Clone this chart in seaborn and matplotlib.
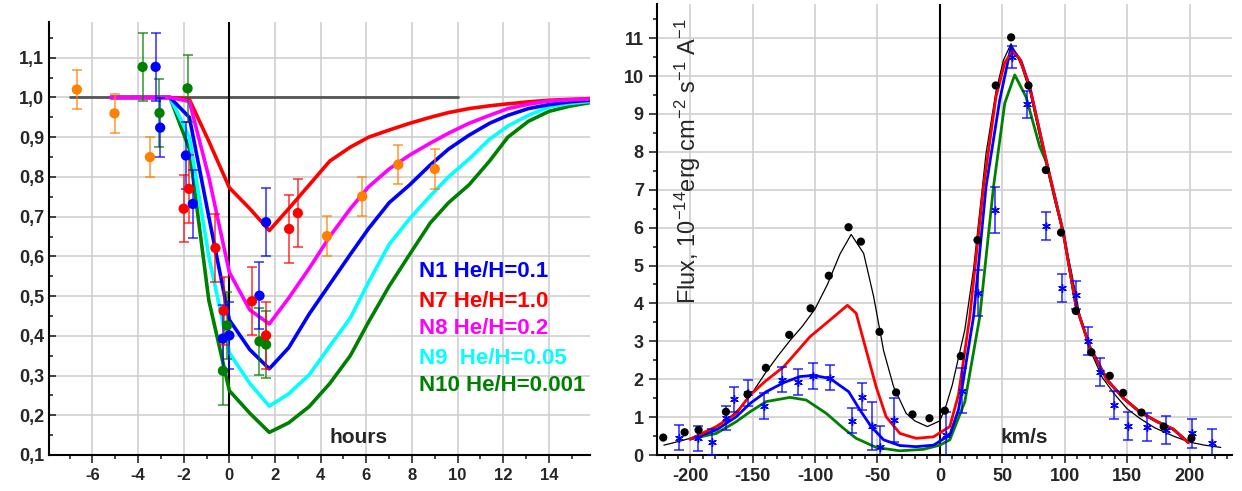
import numpy as np
import pandas as pd
import matplotlib
matplotlib.use('Agg')
import matplotlib.pyplot as plt
import seaborn as sns
from matplotlib.ticker import MultipleLocator, FixedLocator

# ---------------- left panel: model light curves (hours, relative flux)
t_model = [-5.2, -2.6, -1.75, -0.9, 0, 0.9, 1.75, 2.6, 3.5, 4.4, 5.3, 6.1, 7.0, 7.9,
           8.8, 9.6, 10.5, 11.4, 12.2, 13.1, 14.0, 14.9, 15.8]
n1_f = [1.0, 1.0, 0.95, 0.70, 0.44, 0.365, 0.317, 0.37, 0.455, 0.53, 0.605, 0.67, 0.735,
        0.78, 0.83, 0.87, 0.905, 0.935, 0.955, 0.972, 0.982, 0.989, 0.993]
n7_f = [1.0, 1.0, 0.995, 0.89, 0.773, 0.72, 0.665, 0.72, 0.78, 0.84, 0.875, 0.9, 0.918,
        0.935, 0.95, 0.962, 0.972, 0.979, 0.984, 0.989, 0.993, 0.995, 0.997]
n8_f = [1.0, 1.0, 0.99, 0.80, 0.56, 0.465, 0.43, 0.495, 0.57, 0.65, 0.72, 0.775, 0.82,
        0.855, 0.885, 0.91, 0.935, 0.955, 0.972, 0.983, 0.991, 0.994, 0.996]
n9_f = [1.0, 1.0, 0.90, 0.60, 0.357, 0.28, 0.223, 0.254, 0.302, 0.374, 0.445, 0.535, 0.63,
        0.695, 0.752, 0.80, 0.845, 0.895, 0.928, 0.955, 0.976, 0.985, 0.99]
n10_f = [1.0, 1.0, 0.87, 0.49, 0.262, 0.205, 0.157, 0.181, 0.222, 0.28, 0.35, 0.435, 0.525,
         0.605, 0.684, 0.735, 0.78, 0.84, 0.9, 0.94, 0.965, 0.978, 0.987]

# observed points
orange_t = [-6.68, -5.03, -3.48, 4.28, 5.82, 7.4, 9.0]
orange_f = [1.02, 0.96, 0.85, 0.651, 0.751, 0.831, 0.82]
orange_e = [0.05, 0.05, 0.05, 0.05, 0.05, 0.05, 0.05]
green_t = [-3.8, -3.06, -1.83, -0.1, -0.28, 1.32, 1.61]
green_f = [1.077, 0.961, 1.023, 0.426, 0.312, 0.386, 0.378]
green_e = [0.085, 0.085, 0.085, 0.085, 0.085, 0.085, 0.085]
blue_t = [-3.23, -3.03, -1.9, -1.6, 1.61, 0.0, -0.29, 1.32]
blue_f = [1.077, 0.924, 0.854, 0.732, 0.686, 0.401, 0.393, 0.501]
blue_e = [0.085, 0.075, 0.085, 0.085, 0.085, 0.085, 0.085, 0.085]
red_t = [-2.0, -1.77, -0.61, -0.25, 0.99, 1.61, 2.62, 3.0]
red_f = [0.72, 0.77, 0.621, 0.463, 0.487, 0.401, 0.669, 0.709]
red_e = [0.085, 0.085, 0.085, 0.085, 0.085, 0.085, 0.085, 0.085]

left_yticks = [0.1, 0.2, 0.3, 0.4, 0.5, 0.6, 0.7, 0.8, 0.9, 1.0, 1.1]
left_xticks = [-6, -4, -2, 0, 2, 4, 6, 8, 10, 12, 14]
model_labels = ['N1 He/H=0.1', 'N7 He/H=1.0', 'N8 He/H=0.2', 'N9  He/H=0.05', 'N10 He/H=0.001']

# ---------------- right panel: line profile (km/s, flux)
obs_v = [-221.5, -204.4, -193.2, -171.3, -154, -139.3, -120.6, -103.5, -88.9, -73.1, -63.2,
         -48.3, -35, -21.9, -8.3, 4, 16.8, 30.2, 44.8, 57.1, 71, 84.9, 97.1, 108.9, 121.4,
         136.1, 146.8, 161.5, 179.3, 201.5]
obs_f = [0.46, 0.60, 0.66, 1.14, 1.60, 2.30, 3.17, 3.87, 4.73, 6.01, 5.63, 3.25, 1.65, 1.07,
         0.97, 1.17, 2.61, 5.67, 9.75, 11.02, 9.75, 7.52, 5.87, 3.80, 2.71, 2.09, 1.64, 1.12,
         0.75, 0.44]

star_v = [-209, -193.5, -182.3, -171.6, -164.9, -154, -140.7, -126.5, -113.4, -101.4, -88.3,
          -70.5, -62.2, -54.7, -48, -36.3, 4.8, 18, 30.2, 44, 57.6, 69.9, 84.9, 97.9, 109.4,
          118.8, 128.1, 139.6, 151, 166.3, 181.5, 202, 218.3]
star_f = [0.46, 0.44, 0.35, 0.97, 1.47, 1.63, 1.30, 1.98, 1.93, 2.08, 2.04, 0.90, 1.54, 0.77,
          0.20, 0.92, 0.53, 1.7, 4.27, 6.46, 10.5, 9.25, 6.05, 4.41, 4.22, 3.02, 2.18, 1.32,
          0.77, 0.75, 0.66, 0.57, 0.31]
star_e = [0.34, 0.33, 0.34, 0.32, 0.33, 0.35, 0.34, 0.33, 0.35, 0.34, 0.33, 0.33, 0.35, 0.64,
          0.57, 0.59, 0.6, 0.6, 0.6, 0.6, 0.3, 0.35, 0.37, 0.36, 0.36, 0.37, 0.37, 0.37, 0.37,
          0.37, 0.37, 0.38, 0.37]

fit_v = [-221, -210, -200, -190, -180, -170, -160, -150, -140, -130, -120, -110, -100, -90,
         -80, -71, -61, -53, -45, -37, -27, -20, -10, 0, 5, 10, 20, 27, 37, 45, 51, 57, 65,
         72, 80, 85, 92, 99, 105, 112, 120, 130, 140, 150, 160, 172, 187, 200, 212, 225]
fit_f = [0.26, 0.35, 0.44, 0.55, 0.72, 0.93, 1.25, 1.65, 2.15, 2.6, 3.02, 3.4, 3.85, 4.5,
         5.3, 5.82, 5.32, 4.18, 2.75, 1.8, 1.1, 0.9, 0.75, 0.9, 1.3, 1.85, 3.3, 4.9, 7.95,
         9.6, 10.42, 10.85, 10.3, 9.6, 8.4, 7.7, 6.7, 5.8, 4.9, 3.7, 2.8, 2.05, 1.6, 1.22,
         0.97, 0.72, 0.5, 0.34, 0.26, 0.2]

red_v = [-200, -179, -163, -152, -140, -125, -104, -88, -74, -67, -59, -51, -43, -32, -19, -5,
         8, 15, 24, 35, 45, 52, 58, 64, 72, 85, 99, 109, 120, 134, 147, 160, 174, 187, 199]
red_pf = [0.42, 0.75, 1.1, 1.58, 1.94, 2.33, 3.12, 3.56, 3.95, 3.74, 2.77, 1.8, 1.01, 0.57,
          0.44, 0.48, 0.75, 1.6, 3.65, 7.08, 9.45, 10.35, 10.65, 10.45, 9.72, 7.8, 5.85, 3.95,
          2.86, 1.98, 1.5, 1.14, 0.88, 0.68, 0.33]
blue_v = [-200, -179, -163, -152, -139, -125, -112, -101, -88, -73, -64, -55, -45, -32, -19,
          -5, 8, 15, 27, 37, 48, 57, 65, 72, 85, 99, 109, 120, 134, 147, 160, 174, 187, 199]
blue_pf = [0.42, 0.66, 1.01, 1.36, 1.67, 1.91, 2.07, 2.1, 2.02, 1.67, 1.19, 0.75, 0.40, 0.25,
           0.22, 0.26, 0.53, 1.2, 3.65, 7.08, 9.37, 10.77, 10.4, 9.72, 7.8, 5.85, 3.95, 2.86,
           1.98, 1.5, 1.14, 0.88, 0.68, 0.33]
green_v = [-200, -179, -163, -152, -139, -120, -107, -91, -77, -67, -51, -32, -13, 0, 8, 20,
           32, 43, 52, 60, 69, 80, 85, 99, 109, 120, 134, 147, 160, 174, 187, 199]
green_pf = [0.42, 0.57, 0.88, 1.14, 1.41, 1.52, 1.45, 1.10, 0.70, 0.44, 0.20, 0.11, 0.15,
            0.26, 0.40, 1.4, 3.65, 7.08, 9.28, 10.03, 9.45, 8.14, 7.75, 5.85, 3.95, 2.86,
            1.98, 1.5, 1.14, 0.88, 0.68, 0.33]

right_xticks = [-200, -150, -100, -50, 0, 50, 100, 150, 200]
right_yticks = [0, 1, 2, 3, 4, 5, 6, 7, 8, 9, 10, 11]

#%% style
sns.set_style('ticks')
plt.rcParams['font.family'] = ['Liberation Sans', 'DejaVu Sans']
plt.rcParams['mathtext.fontset'] = 'custom'
plt.rcParams['mathtext.rm'] = 'Liberation Sans'
plt.rcParams['mathtext.it'] = 'Liberation Sans:italic'
plt.rcParams['mathtext.bf'] = 'Liberation Sans:bold'

BLUE, RED, MAG, CYAN, GREEN, ORANGE = '#0000ff', '#ff0000', '#ff00ff', '#00ffff', '#008000', '#ff8000'
GRID = '#cfcfcf'

fig = plt.figure(figsize=(12.42, 4.91), dpi=100)
ax1 = fig.add_axes([49 / 1242, 36 / 491, 541 / 1242, 433 / 491])
ax2 = fig.add_axes([657 / 1242, 36 / 491, 575 / 1242, 451 / 491])

#%% left panel
ax1.grid(True, color=GRID, lw=1.2)
ax1.set_axisbelow(True)
ax1.plot([-7, 10], [1.0, 1.0], color='#555555', lw=2, zorder=2)
ax1.axvline(0, color='black', lw=1.5, zorder=2)

curves = [(n10_f, GREEN), (n9_f, CYAN), (n1_f, BLUE), (n7_f, RED), (n8_f, MAG)]
for f, c in curves:
    sns.lineplot(x=t_model, y=f, ax=ax1, color=c, lw=2.6, sort=False, estimator=None, zorder=3)

points = [(orange_t, orange_f, orange_e, ORANGE), (green_t, green_f, green_e, GREEN),
          (blue_t, blue_f, blue_e, BLUE), (red_t, red_f, red_e, RED)]
for t, f, e, c in points:
    ax1.errorbar(t, f, yerr=e, fmt='none', ecolor=c, elinewidth=1.2, capsize=3.5,
                 capthick=1.2, alpha=0.75, zorder=4)
    sns.scatterplot(x=t, y=f, ax=ax1, color=c, s=55, edgecolor='none', zorder=5)

# model labels
text_y = [0.5625, 0.487, 0.418, 0.344, 0.275]
text_c = [BLUE, RED, MAG, CYAN, GREEN]
for lab, y, c in zip(model_labels, text_y, text_c):
    ax1.text(8.29, y, lab, color=c, fontsize=16, fontweight='bold', va='center', ha='left')
ax1.text(5.66, 0.144, 'hours', fontsize=15, fontweight='bold', ha='center', va='center')

ax1.set_xlim(-7.9, 15.8)
ax1.set_ylim(0.1, 1.19)
ax1.xaxis.set_major_locator(FixedLocator(left_xticks))
ax1.xaxis.set_minor_locator(MultipleLocator(1))
ax1.yaxis.set_major_locator(FixedLocator(left_yticks))
ax1.yaxis.set_minor_locator(MultipleLocator(0.05))
ax1.set_yticklabels([f'{v:.1f}'.replace('.', ',') for v in left_yticks])
ax1.set_xticklabels([str(v) for v in left_xticks])
ax1.tick_params(axis='y', which='both', direction='in', width=1.2, labelsize=13)
ax1.tick_params(axis='y', which='major', length=5)
ax1.tick_params(axis='y', which='minor', length=3)
ax1.tick_params(axis='x', which='both', direction='out', width=1.2, labelsize=12)
ax1.tick_params(axis='x', which='major', length=6)
ax1.tick_params(axis='x', which='minor', length=3)
for lab in ax1.get_xticklabels() + ax1.get_yticklabels():
    lab.set_fontweight('bold')
ax1.set_xlabel('')
ax1.set_ylabel('')
sns.despine(ax=ax1)
for s in ['left', 'bottom']:
    ax1.spines[s].set_color('black')
    ax1.spines[s].set_linewidth(1.5)

#%% right panel
ax2.grid(True, color=GRID, lw=1.2)
ax2.set_axisbelow(True)
ax2.axvline(0, color='black', lw=1.5, zorder=2)

sns.lineplot(x=fit_v, y=fit_f, ax=ax2, color='black', lw=0.9, sort=False, estimator=None, zorder=3)
sns.lineplot(x=green_v, y=green_pf, ax=ax2, color=GREEN, lw=2, sort=False, estimator=None, zorder=3)
sns.lineplot(x=blue_v, y=blue_pf, ax=ax2, color=BLUE, lw=2, sort=False, estimator=None, zorder=3)
sns.lineplot(x=red_v, y=red_pf, ax=ax2, color=RED, lw=2, sort=False, estimator=None, zorder=3)

ax2.errorbar(star_v, star_f, yerr=star_e, fmt='none', ecolor=BLUE, elinewidth=1.1,
             capsize=3.5, capthick=1.1, alpha=0.85, zorder=4)
sns.scatterplot(x=star_v, y=star_f, ax=ax2, color=BLUE, marker=(6, 2, 0), s=30,
                linewidth=1, zorder=5)
sns.scatterplot(x=obs_v, y=obs_f, ax=ax2, color='black', s=35, edgecolor='none', zorder=6)

ax2.text(-202, 7.75, r'Flux, 10$^{-14}$erg cm$^{-2}$ s$^{-1}$ A$^{-1}$', rotation=90,
         fontsize=17, ha='center', va='center')
ax2.text(68, 0.47, 'km/s', fontsize=15, fontweight='bold', ha='center', va='center')

ax2.set_xlim(-226.5, 234)
ax2.set_ylim(0, 11.9)
ax2.xaxis.set_major_locator(FixedLocator(right_xticks))
ax2.xaxis.set_minor_locator(MultipleLocator(10))
ax2.yaxis.set_major_locator(FixedLocator(right_yticks))
ax2.yaxis.set_minor_locator(MultipleLocator(0.5))
ax2.set_xticklabels([str(v) for v in right_xticks])
ax2.set_yticklabels([str(v) for v in right_yticks])
ax2.tick_params(axis='both', which='both', direction='out', width=1.2, labelsize=13)
ax2.tick_params(axis='both', which='major', length=6)
ax2.tick_params(axis='both', which='minor', length=3)
for lab in ax2.get_xticklabels() + ax2.get_yticklabels():
    lab.set_fontweight('bold')
ax2.set_xlabel('')
ax2.set_ylabel('')
sns.despine(ax=ax2)
for s in ['left', 'bottom']:
    ax2.spines[s].set_color('black')
    ax2.spines[s].set_linewidth(1.5)

fig.savefig('out.png', dpi=100)
